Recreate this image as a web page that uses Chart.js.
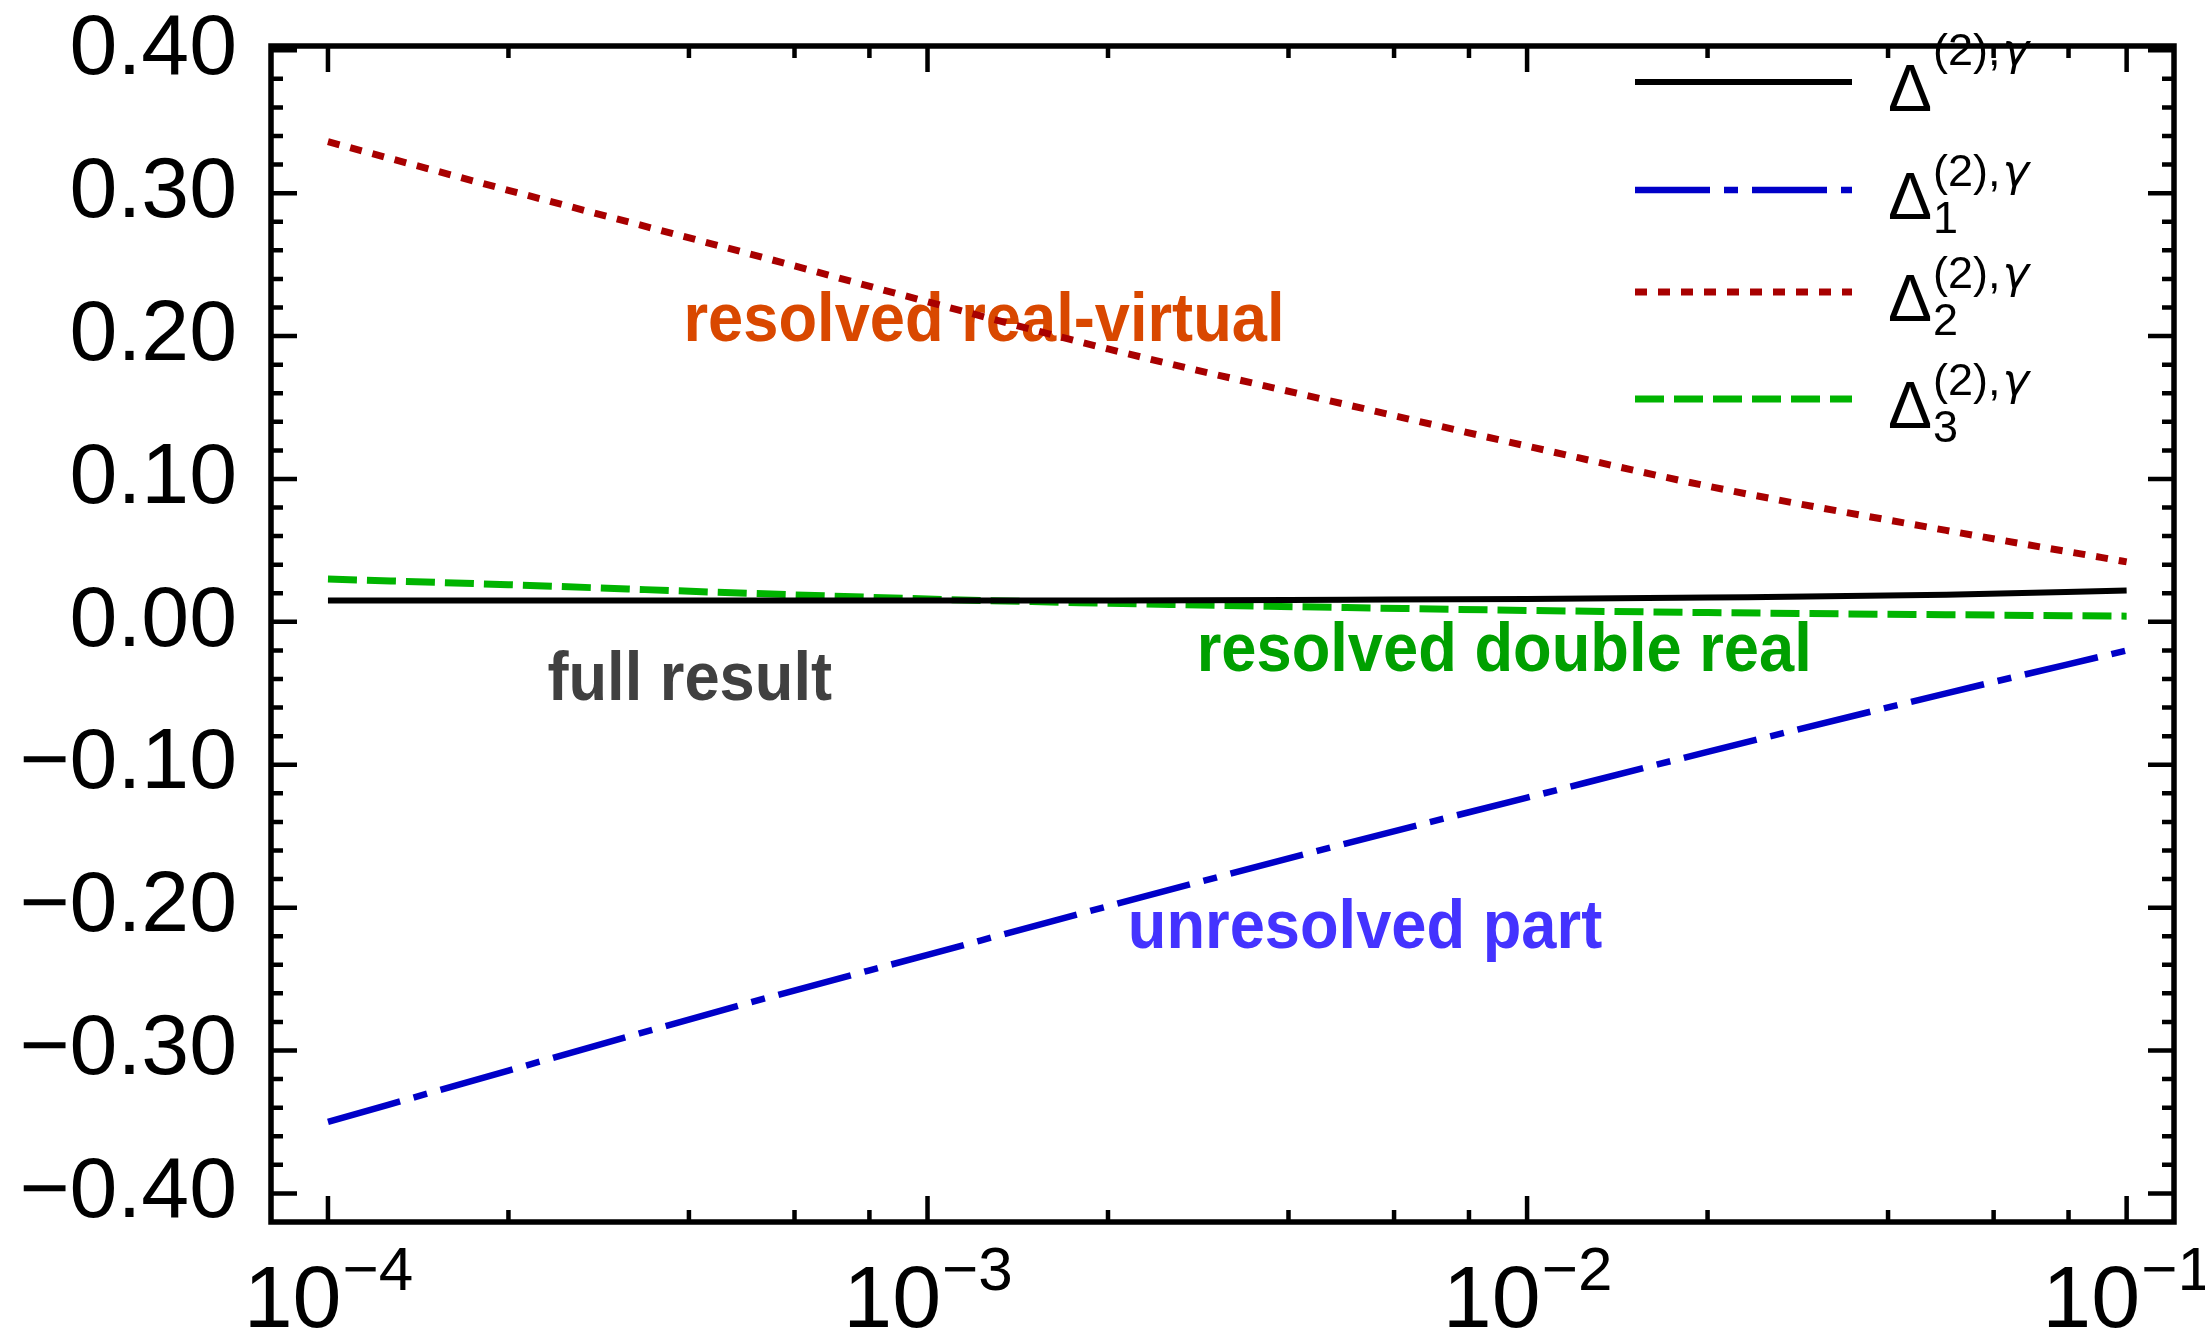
<!DOCTYPE html>
<html>
<head>
<meta charset="utf-8">
<script src="https://cdn.jsdelivr.net/npm/chart.js@4.4.0/dist/chart.umd.min.js"></script>
<style>
  html, body { margin: 0; padding: 0; background: #fff; }
</style>
</head>
<body>
<canvas id="deltaChart" width="2205" height="1331"></canvas>
<script>
// values
const xValues = [1e-4, 2e-4, 5e-4, 1e-3, 2e-3, 5e-3, 1e-2, 2e-2, 5e-2, 1e-1];
const deltaFull = [0.015, 0.015, 0.015, 0.015, 0.015, 0.0155, 0.016, 0.017, 0.019, 0.022];
const deltaUnresolved = [-0.350, -0.314, -0.267, -0.233, -0.199, -0.155, -0.123, -0.091, -0.050, -0.020];
const deltaRealVirtual = [0.336, 0.302, 0.258, 0.224, 0.191, 0.152, 0.123, 0.095, 0.064, 0.042];
const deltaDoubleReal = [0.030, 0.026, 0.020, 0.016, 0.013, 0.010, 0.008, 0.0065, 0.005, 0.004];

const legendSubs = ['', '1', '2', '3'];
const xTickPowers = [-4, -3, -2, -1];
const yMin = -0.42, yMax = 0.403;

const FONT = '"Liberation Sans", Arial, Helvetica, sans-serif';

function pts(ys) {
    return xValues.map(function(x, i) { return {x: x, y: ys[i]}; });
}

// text labels inside the plot, anchored in data coordinates
const notes = [
    {text: 'resolved real-virtual', x: Math.pow(10, -3.407), y: 0.1965, color: '#d94800'},
    {text: 'full result', x: Math.pow(10, -3.634), y: -0.0545, color: '#404040'},
    {text: 'resolved double real', x: Math.pow(10, -2.551), y: -0.0343, color: '#00a000'},
    {text: 'unresolved part', x: Math.pow(10, -2.666), y: -0.228, color: '#4433ff'}
];

const frameAxes = {
    id: 'frameAxes',
    beforeDatasetsDraw(chart) {
        const ctx = chart.ctx;
        const xs = chart.scales.x, ys = chart.scales.y;
        ctx.save();
        ctx.font = 'bold 68px ' + FONT;
        ctx.textAlign = 'left';
        ctx.textBaseline = 'alphabetic';
        notes.forEach(function(n) {
            ctx.save();
            ctx.translate(xs.getPixelForValue(n.x), ys.getPixelForValue(n.y));
            ctx.scale(0.93, 1);
            ctx.fillStyle = n.color;
            ctx.fillText(n.text, 0, 0);
            ctx.restore();
        });
        ctx.restore();
    },
    afterDatasetsDraw(chart) {
        const ctx = chart.ctx;
        const a = chart.chartArea;
        const xs = chart.scales.x, ys = chart.scales.y;
        ctx.save();
        ctx.strokeStyle = '#000';
        ctx.lineWidth = 4.5;
        ctx.lineCap = 'butt';

        // y ticks, left and right
        for (let i = -21; i <= 20; i++) {
            const v = i * 0.02;
            if (v < yMin || v > yMax) continue;
            const p = ys.getPixelForValue(v);
            if (p > a.bottom - 3 || p < a.top + 1) continue;
            const len = (i % 5 === 0) ? 26 : 12;
            ctx.beginPath();
            ctx.moveTo(a.left, p); ctx.lineTo(a.left + len, p);
            ctx.moveTo(a.right, p); ctx.lineTo(a.right - len, p);
            ctx.stroke();
        }
        // x ticks, bottom and top
        for (let k = -5; k <= 0; k++) {
            [1, 2, 4, 6, 8].forEach(function(m) {
                const v = m * Math.pow(10, k);
                if (v < xs.min || v > xs.max) return;
                const p = xs.getPixelForValue(v);
                const len = (m === 1) ? 26 : 12;
                ctx.beginPath();
                ctx.moveTo(p, a.bottom); ctx.lineTo(p, a.bottom - len);
                ctx.moveTo(p, a.top); ctx.lineTo(p, a.top + len);
                ctx.stroke();
            });
        }
        // frame
        ctx.lineWidth = 5.5;
        ctx.strokeRect(a.left, a.top, a.right - a.left, a.bottom - a.top);

        // x tick labels 10^k
        ctx.fillStyle = '#000';
        ctx.textAlign = 'left';
        ctx.textBaseline = 'alphabetic';
        xTickPowers.forEach(function(k) {
            const p = xs.getPixelForValue(Math.pow(10, k));
            const sup = '\u2212' + Math.abs(k);
            ctx.font = '88px ' + FONT;
            const w1 = ctx.measureText('10').width;
            ctx.font = '62px ' + FONT;
            const w2 = ctx.measureText(sup).width;
            const left = p - (w1 + w2) / 2;
            ctx.font = '88px ' + FONT;
            ctx.fillText('10', left, a.bottom + 105);
            ctx.font = '62px ' + FONT;
            ctx.fillText(sup, left + w1 + 1, a.bottom + 68);
        });

        // legend
        const rowY = [36, 144, 246, 353];
        chart.data.datasets.forEach(function(ds, i) {
            const y = a.top + rowY[i];
            ctx.save();
            ctx.strokeStyle = ds.borderColor;
            ctx.lineWidth = ds.borderWidth;
            ctx.setLineDash(ds.borderDash || []);
            ctx.beginPath();
            ctx.moveTo(a.right - 539, y);
            ctx.lineTo(a.right - 322, y);
            ctx.stroke();
            ctx.restore();

            const tx = a.right - 286;
            const base = y + 29;
            ctx.fillStyle = '#000';
            ctx.font = '66px ' + FONT;
            ctx.fillText('\u0394', tx, base);
            const dw = ctx.measureText('\u0394').width;
            const supY = legendSubs[i] ? base - 33 : base - 46;
            ctx.font = '45px ' + FONT;
            ctx.fillText('(2),', tx + dw + 1, supY);
            const pw = ctx.measureText('(2),').width;
            ctx.font = 'italic 45px "DejaVu Sans", ' + FONT;
            ctx.fillText('\u03b3', tx + dw + 3 + pw, supY);
            if (legendSubs[i]) {
                ctx.font = '45px ' + FONT;
                ctx.fillText(legendSubs[i], tx + dw + 1, base + 14);
            }
        });
        ctx.restore();
    }
};

const ctx = document.getElementById('deltaChart').getContext('2d');
const deltaChart = new Chart(ctx, {
    type: 'line',
    data: {
        datasets: [
            {label: 'full', data: pts(deltaFull), borderColor: '#000000', borderWidth: 6, borderDash: []},
            {label: 'unresolved', data: pts(deltaUnresolved), borderColor: '#0000c8', borderWidth: 6.5, borderDash: [75, 14, 14, 14]},
            {label: 'real-virtual', data: pts(deltaRealVirtual), borderColor: '#a80000', borderWidth: 7, borderDash: [12, 11]},
            {label: 'double real', data: pts(deltaDoubleReal), borderColor: '#00b400', borderWidth: 7, borderDash: [29, 10]}
        ]
    },
    options: {
        responsive: false,
        animation: false,
        devicePixelRatio: 1,
        layout: {padding: {left: 0, top: 46, right: 31, bottom: 109}},
        elements: {
            point: {radius: 0},
            line: {cubicInterpolationMode: 'monotone', borderCapStyle: 'butt'}
        },
        plugins: {legend: {display: false}, tooltip: {enabled: false}},
        scales: {
            x: {
                type: 'logarithmic',
                min: Math.pow(10, -4.095),
                max: Math.pow(10, -0.921),
                ticks: {display: false},
                grid: {display: false, drawTicks: false},
                border: {display: false}
            },
            y: {
                min: yMin,
                max: yMax,
                ticks: {
                    stepSize: 0.1,
                    includeBounds: false,
                    autoSkip: false,
                    padding: 34,
                    color: '#000',
                    font: {family: FONT, size: 86},
                    callback: function(v) {
                        if (Math.abs(v) < 1e-9) return '0.00';
                        const s = Math.abs(v).toFixed(2);
                        return v < 0 ? '\u2212' + s : s;
                    }
                },
                grid: {display: false, drawTicks: false},
                border: {display: false},
                afterFit: function(s) {
                    s.width = 271;
                    s.paddingTop = 0;
                    s.paddingBottom = 0;
                }
            }
        }
    },
    plugins: [frameAxes]
});
</script>
</body>
</html>
